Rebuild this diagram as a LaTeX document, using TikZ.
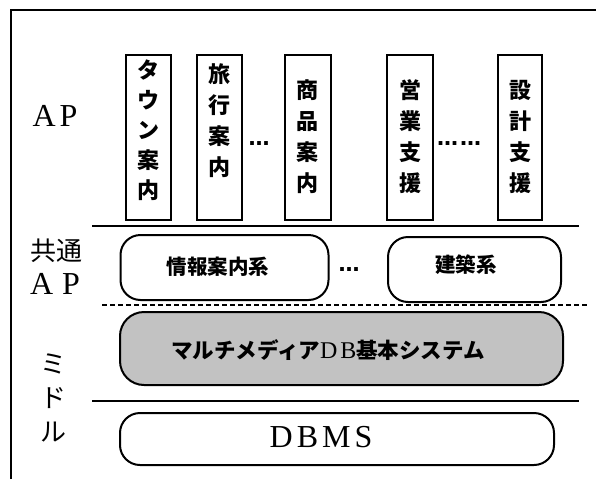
\documentclass[tikz,border=0pt]{standalone}
\usepackage{fontspec}
\setmainfont{Liberation Serif}
\newfontfamily\jp{Noto Sans CJK JP}
\newfontfamily\dotfont{DejaVu Sans}
\tikzset{
  apbox/.style={draw, line width=2pt, inner sep=0pt, minimum width=45pt, minimum height=165pt},
  rbox/.style={draw, line width=2pt, rounded corners=20pt, inner sep=0pt},
  sepline/.style={line width=2pt},
  coltext/.style={align=center, inner sep=0pt, font=\jp\bfseries\fontsize{22}{#1}\selectfont},
  boxtext/.style={inner sep=0pt, font=\jp\bfseries\fontsize{20.5}{22}\selectfont},
  lbl/.style={inner sep=0pt, font=\fontsize{32}{34}\selectfont},
  jlbl/.style={inner sep=0pt, align=center, font=\jp\fontsize{26}{#1}\selectfont},
  dotstxt/.style={inner sep=0pt, font=\dotfont\bfseries\fontsize{21}{22}\selectfont}
}
\begin{document}
\begin{tikzpicture}[x=1pt,y=-1pt]
\useasboundingbox (0,0) rectangle (596,479);
\fill[white] (0,0) rectangle (596,479);
% frame
\draw[line width=2pt] (11,479) -- (11,10) -- (596,10);

% AP application boxes
\node[apbox] (b1) at (148.5,137.5) {};
\node[apbox] (b2) at (219.5,137.5) {};
\node[apbox, minimum width=46pt] (b3) at (307.5,137.5) {};
\node[apbox, minimum width=46pt] (b4) at (410,137.5) {};
\node[apbox, minimum width=44pt] (b5) at (520,137.5) {};

\node[coltext=30pt] (t1) at (148.5,130) {タ\\ウ\\ン\\案\\内};
\node[coltext=31pt] (t2) at (219.5,121) {旅\\行\\案\\内};
\node[coltext=31pt] (t3) at (307.5,137) {商\\品\\案\\内};
\node[coltext=31pt] (t4) at (410,137) {営\\業\\支\\援};
\node[coltext=31pt] (t5) at (520,137) {設\\計\\支\\援};

\node[dotstxt] (d1) at (259,144) {…};
\node[dotstxt] (d2) at (459,144) {…\hspace{2pt}…};

% labels
\node[lbl] (lap) at (55,116) {A\hspace{4pt}P};
\node[jlbl=26pt] (lcom) at (56,251) {共通};
\node[lbl] (lap2) at (55,284) {A\hspace{9pt}P};
\node[jlbl=34pt] (lmid) at (53,398) {ミ\\ド\\ル};

% separators
\coordinate (s1a) at (92,226);
\coordinate (s1b) at (579,226);
\draw[sepline] (s1a) -- (s1b);
\coordinate (s2a) at (102,305);
\coordinate (s2b) at (589,305);
\draw[line width=1.6pt, dash pattern=on 5pt off 3pt] (s2a) -- (s2b);
\coordinate (s3a) at (92,401);
\coordinate (s3b) at (579,401);
\draw[sepline] (s3a) -- (s3b);

% common AP boxes
\node[rbox, minimum width=208pt, minimum height=65pt] (r1) at (224.5,267.5) {};
\node[boxtext] (r1t) at (218,267) {情報案内系};
\node[dotstxt] (d3) at (349,270) {…};
\node[rbox, minimum width=173pt, minimum height=65pt] (r2) at (474.5,269.5) {};
\node[boxtext] (r2t) at (466,265) {建築系};

% middleware
\node[rbox, fill=black!24, minimum width=443pt, minimum height=73pt, rounded corners=24pt] (r3) at (341.5,348.5) {};
\node[inner sep=0pt, font=\jp\bfseries\fontsize{21.5}{22}\selectfont] (r3t) at (328,350)
  {マルチメディア{\normalfont\fontsize{24}{24}\selectfont D\hspace{3pt}B}基本システム};

% DBMS
\node[rbox, minimum width=434pt, minimum height=52pt] (r4) at (337,439) {};
\node[inner sep=0pt, font=\fontsize{32}{34}\selectfont] (r4t) at (321,437) {D\hspace{4pt}B\hspace{4pt}M\hspace{4pt}S};
\end{tikzpicture}
\end{document}
